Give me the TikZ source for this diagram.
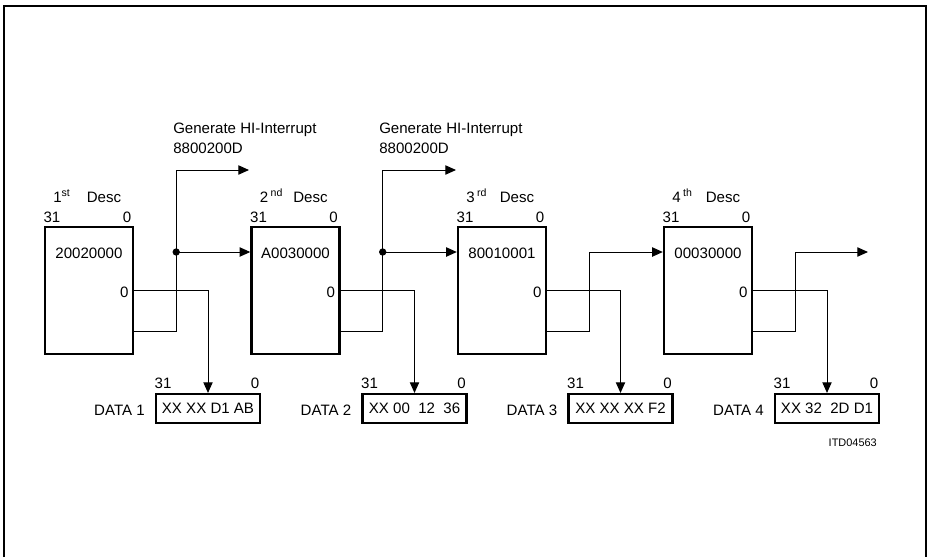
\documentclass[tikz,border=0pt]{standalone}
\usepackage{fontspec}
\setmainfont{Liberation Sans}
\usepackage{tikz}
\usetikzlibrary{arrows.meta,positioning,calc}

\tikzset{
  descbox/.style={draw,line width=1.8pt,minimum width=66pt,minimum height=95.25pt,inner sep=0pt},
  databox/.style={draw,line width=1.6pt,minimum width=78pt,minimum height=21.75pt,inner sep=2pt},
  conn/.style={line width=0.75pt},
  tip/.style={-{Triangle[length=8pt,width=7pt]}},
  dot/.style={circle,fill,inner sep=0pt,minimum size=5.5pt}
}

\begin{document}
\begin{tikzpicture}[x=0.75pt,y=-0.75pt,font=\fontsize{11.3}{13.5}\selectfont]
\useasboundingbox (0,0) rectangle (927,557);
\draw[line width=1.5pt] (4,557) -- (4,6) -- (926,6) -- (926,557);

% descriptors
\foreach \i/\cx/\val/\ord in {1/89/20020000/{1\textsuperscript{st}},
  2/295.5/A0030000/{2\,\textsuperscript{nd}}, 3/502/80010001/{3\,\textsuperscript{rd}},
  4/708/00030000/{4\,\textsuperscript{th}}}
{
  \node[descbox] (d\i) at (\cx,290.5) {};
  \node[anchor=base] (val\i) at (\cx,258) {\val};
  \node[anchor=base east,inner sep=1pt] (port\i) at (\cx+41,297) {0};
  \node[anchor=base] (hi\i) at (\cx-37,222) {31};
  \node[anchor=base] (lo\i) at (\cx+38,222) {0};
  \node[anchor=base west,inner sep=0pt] (ord\i) at (\cx-36,202) {\ord};
  \node[anchor=base] (desc\i) at (\cx+15,202) {Desc};
}

% data buffers
\foreach \i/\cx/\bytes in {1/208/{XX XX D1 AB}, 2/414.5/{XX 00\ \ 12\ \ 36},
  3/620.5/{XX XX XX F2}, 4/827/{XX 32\ \ 2D D1}}
{
  \node[databox] (data\i) at (\cx,408.5) {\bytes};
  \node[anchor=base] (dhi\i) at (\cx-45,388) {31};
  \node[anchor=base] (dlo\i) at (\cx+47,388) {0};
  \node[anchor=base east,inner sep=0pt] (dname\i) at (\cx-63,415) {DATA \i};
  \draw[conn,tip] (d\i.east) -| (data\i.north);
}

% next pointers
\foreach \i in {1,...,4}
{
  \coordinate (t\i) at ($(d\i.east)+(0,40.5)$);
  \coordinate (j\i) at ($(d\i.east)+(42,-38.5)$);
}
\coordinate (irq1) at (249,170);
\coordinate (irq2) at (456,170);
\coordinate (out4) at (868,252);

\draw[conn,tip] (t1) -| (j1) |- (irq1);
\draw[conn,tip] (j1) -- (j1 -| d2.west);
\node[dot] (jd1) at (j1) {};
\draw[conn,tip] (t2) -| (j2) |- (irq2);
\draw[conn,tip] (j2) -- (j2 -| d3.west);
\node[dot] (jd2) at (j2) {};
\draw[conn,tip] (t3) -| (j3) -- (j3 -| d4.west);
\draw[conn,tip] (t4) -| (j4) -- (out4);

\node[anchor=base west,inner sep=0pt] (gen1) at (173,133) {Generate HI-Interrupt};
\node[anchor=base west,inner sep=0pt] (code1) at (173,153) {8800200D};
\node[anchor=base west,inner sep=0pt] (gen2) at (379,133) {Generate HI-Interrupt};
\node[anchor=base west,inner sep=0pt] (code2) at (379,153) {8800200D};

\node[anchor=base east,inner sep=0pt,font=\fontsize{8.2}{10}\selectfont] (fig) at (877,446) {ITD04563};
\end{tikzpicture}
\end{document}
